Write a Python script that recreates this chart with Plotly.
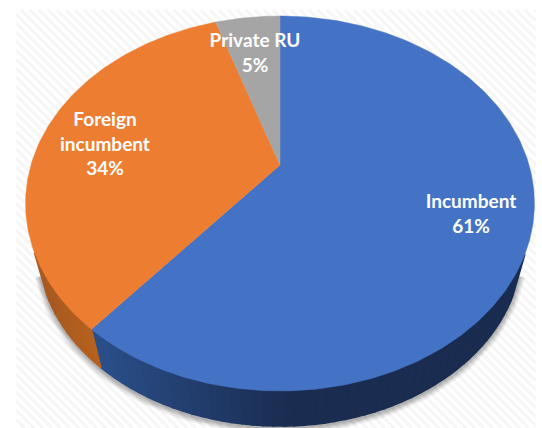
import math
import plotly.graph_objects as go

categories = ["Incumbent", "Foreign<br>incumbent", "Private RU"]
shares = [61, 34, 5]
top_colors = ["#4472C4", "#ED7D31", "#A5A5A5"]
wall_near = ["#2A4E88", "#B8631F", "#707070"]
wall_far = ["#1A2C50", "#A85A20", "#707070"]
label_x = [471, 105, 255]
label_y = [216, 146, 55]

W, H = 542, 428
APEX_X, APEX_Y = 280.0, 165.0
TILT = 0.2053
B = -145.7
A = 249.0
DEPTH_SCALE = 0.95
ELL_CX, ELL_CY = 280.5, 203.5
LOW_CY = 248.0
LOW_CX = 280.5


def rim(theta):
    u, v = math.sin(theta), math.cos(theta)
    d = 1 + TILT * v
    return APEX_X + A * u / d, (APEX_Y + B * v) / d


def low_rim(theta):
    x, y = rim(theta)
    return LOW_CX + (x - ELL_CX) * DEPTH_SCALE, LOW_CY + (y - ELL_CY) * DEPTH_SCALE


def mix(c1, c2, t):
    a = [int(c1[i:i + 2], 16) for i in (1, 3, 5)]
    b = [int(c2[i:i + 2], 16) for i in (1, 3, 5)]
    return "rgb(%d,%d,%d)" % tuple(round(p + (q - p) * t) for p, q in zip(a, b))


fig = go.Figure()


def poly(xs, ys, color, line_w=0.6):
    fig.add_trace(go.Scatter(x=xs, y=ys, mode="lines", fill="toself", fillcolor=color,
                             line=dict(color=color, width=line_w), hoverinfo="skip",
                             showlegend=False))


# hatched backdrop
L, R, T, Bt = 16, 536, 10, 428
hx, hy = [], []
c = L - (Bt - T)
while c < R:
    x0, y0 = c, T
    x1, y1 = c + (Bt - T), Bt
    if x0 < L:
        y0 += L - x0
        x0 = L
    if x1 > R:
        y1 -= x1 - R
        x1 = R
    hx += [x0, x1, None]
    hy += [y0, y1, None]
    c += 9
fig.add_trace(go.Scatter(x=hx, y=hy, mode="lines", line=dict(color="#F6F6F6", width=3),
                         hoverinfo="skip", showlegend=False))

# soft shadow under the pie
angles = [math.radians(a) for a in range(110, 251, 2)]
sx = [low_rim(a)[0] for a in angles]
sy = [low_rim(a)[1] + 2 for a in angles]
for w in (13, 10, 8, 6, 4, 2):
    fig.add_trace(go.Scatter(x=sx, y=sy, mode="lines",
                             line=dict(color="rgba(0,0,0,0.055)", width=w),
                             hoverinfo="skip", showlegend=False))

# side wall and top, from the shares
total = sum(shares)
start = 0.0
spans = []
for s in shares:
    end = start + s / total * 2 * math.pi
    spans.append((start, end))
    start = end

for i, (a0, a1) in enumerate(spans):
    n = max(2, int((a1 - a0) / math.radians(2)))
    for k in range(n):
        t0 = a0 + (a1 - a0) * k / n
        t1 = a0 + (a1 - a0) * (k + 1) / n
        if math.cos((t0 + t1) / 2) > -0.45:
            continue
        p0, p1, q1, q0 = rim(t0), rim(t1), low_rim(t1), low_rim(t0)
        xm = (p0[0] + p1[0]) / 2
        if i == 0:
            f = min(1, max(0, (xm - 100) / 190))
            col = mix(wall_near[0], wall_far[0], f)
        else:
            f = min(1, max(0, (xm - 40) / 60))
            col = mix(wall_far[1], wall_near[1], f)
        poly([p0[0], p1[0], q1[0], q0[0], p0[0]], [p0[1], p1[1], q1[1], q0[1], p0[1]], col, 1.6)

for (a0, a1), col in zip(spans, top_colors):
    n = max(4, int((a1 - a0) / math.radians(1)))
    pts = [rim(a0 + (a1 - a0) * k / n) for k in range(n + 1)]
    poly([APEX_X] + [p[0] for p in pts] + [APEX_X],
         [APEX_Y] + [p[1] for p in pts] + [APEX_Y], col, 0.5)

# labels
texts = [f"{c}<br>{s}%" for c, s in zip(categories, shares)]
fig.add_trace(go.Scatter(x=label_x, y=label_y, mode="text", text=texts,
                         textposition="middle center",
                         textfont=dict(family="Lato", size=19, color="white", weight="bold"),
                         hoverinfo="skip", showlegend=False))

fig.update_layout(width=W, height=H, margin=dict(l=0, r=0, t=0, b=0),
                  paper_bgcolor="white", plot_bgcolor="white", showlegend=False,
                  xaxis=dict(range=[0, W], visible=False, fixedrange=True),
                  yaxis=dict(range=[H, 0], visible=False, fixedrange=True))
fig.write_html("out.html", config={"displayModeBar": False},
               post_script="document.body.style.margin='0';document.documentElement.style.overflow='hidden';")
